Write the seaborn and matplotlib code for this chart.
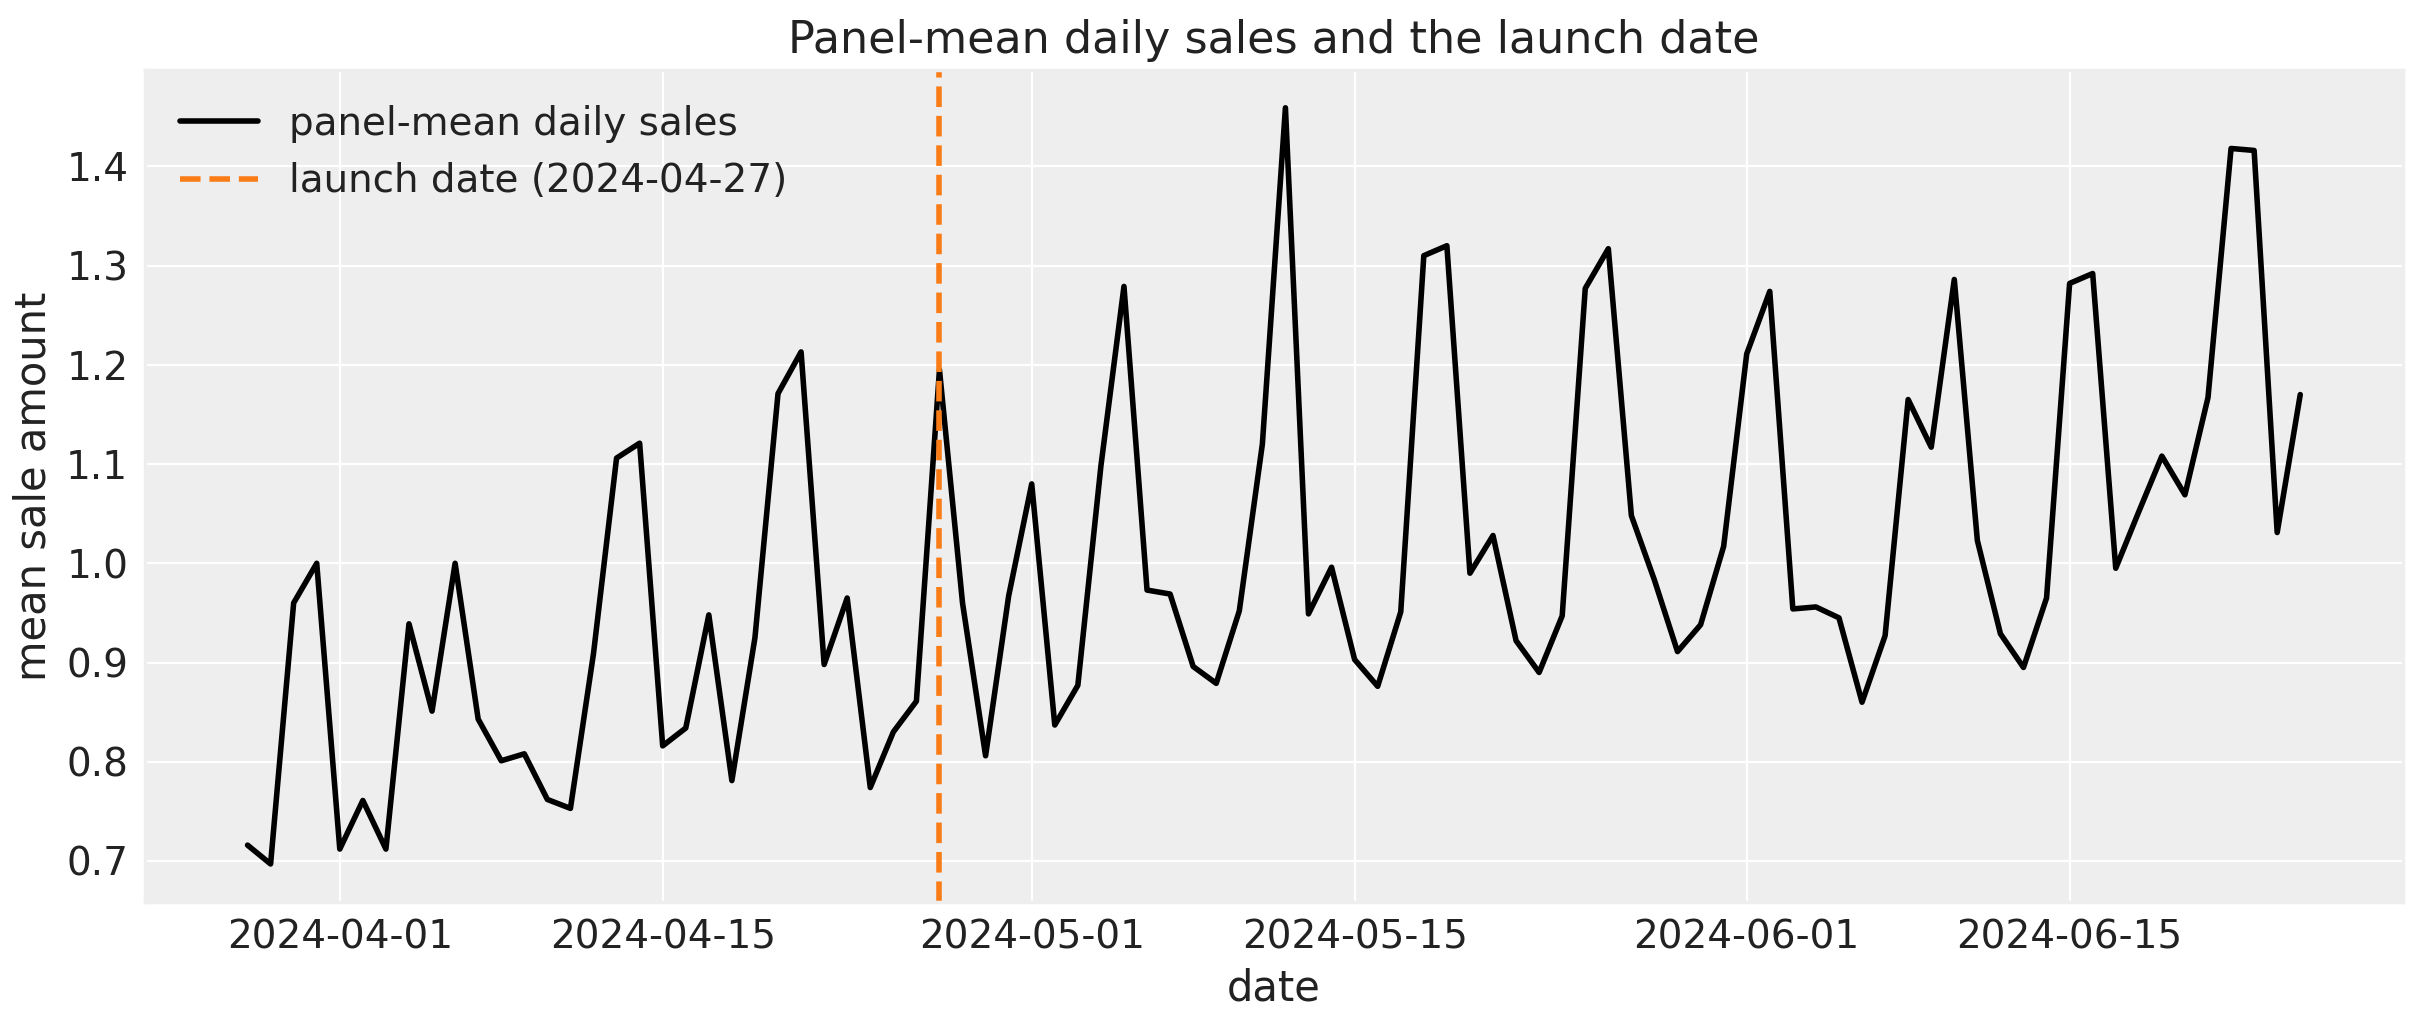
import pandas as pd
import numpy as np
import matplotlib
matplotlib.use("Agg")
import matplotlib.pyplot as plt
import matplotlib.dates as mdates
import seaborn as sns

# panel-mean daily sales, one value per day starting 2024-03-28
start_date = "2024-03-28"
launch_date = "2024-04-27"
sales = [
    0.716, 0.697, 0.960, 1.000,                      # Mar 28-31
    0.712, 0.761, 0.712, 0.939, 0.851, 1.000, 0.843, 0.801, 0.808, 0.762,
    0.753, 0.909, 1.106, 1.121, 0.816, 0.834, 0.948, 0.781, 0.925, 1.171,
    1.213, 0.898, 0.965, 0.774, 0.830, 0.861, 1.195, 0.960, 0.806, 0.967,  # Apr
    1.080, 0.837, 0.877, 1.098, 1.279, 0.973, 0.969, 0.896, 0.879, 0.952,
    1.120, 1.459, 0.949, 0.996, 0.903, 0.876, 0.951, 1.310, 1.320, 0.990,
    1.028, 0.922, 0.890, 0.947, 1.277, 1.317, 1.048, 0.983, 0.911, 0.938,
    1.017,                                           # May
    1.211, 1.274, 0.954, 0.956, 0.945, 0.860, 0.927, 1.165, 1.117, 1.286,
    1.023, 0.929, 0.895, 0.965, 1.282, 1.292, 0.995, 1.052, 1.108, 1.069,
    1.167, 1.418, 1.416, 1.031, 1.170,               # Jun 1-25
]
tick_dates = ["2024-04-01", "2024-04-15", "2024-05-01", "2024-05-15", "2024-06-01", "2024-06-15"]

df = pd.DataFrame({
    "date": pd.date_range(start_date, periods=len(sales), freq="D"),
    "sales": sales,
})

# %% style (grey panel, white grid)
sns.set_theme(style="darkgrid", rc={
    "axes.facecolor": "#eeeeee",
    "grid.color": "white",
    "grid.linewidth": 0.8,
    "axes.edgecolor": "#eeeeee",
    "text.color": "#222222",
    "axes.labelcolor": "#222222",
    "xtick.color": "#222222",
    "ytick.color": "#222222",
    "xtick.major.size": 0,
    "ytick.major.size": 0,
})
plt.rcParams["font.family"] = ["DejaVu Sans"]

fig, ax = plt.subplots(figsize=(12.115, 5.115), dpi=200)
fig.subplots_adjust(left=0.0598, right=0.9917, bottom=0.1185, top=0.9316)

sns.lineplot(data=df, x="date", y="sales", color="black", linewidth=2,
             label="panel-mean daily sales", ax=ax)
ax.axvline(pd.Timestamp(launch_date), color="#fa7c17", linestyle="--", linewidth=2,
           label="launch date (%s)" % launch_date)

ax.set_xticks(pd.to_datetime(tick_dates))
ax.xaxis.set_major_formatter(mdates.DateFormatter("%Y-%m-%d"))
ax.tick_params(axis="both", labelsize=14, pad=6)
ax.set_xlabel("date", fontsize=15)
ax.set_ylabel("mean sale amount", fontsize=15)
ax.set_title("Panel-mean daily sales and the launch date", fontsize=16)
ax.legend(loc="upper left", frameon=False, fontsize=14)

fig.savefig("out.png", dpi=200)
